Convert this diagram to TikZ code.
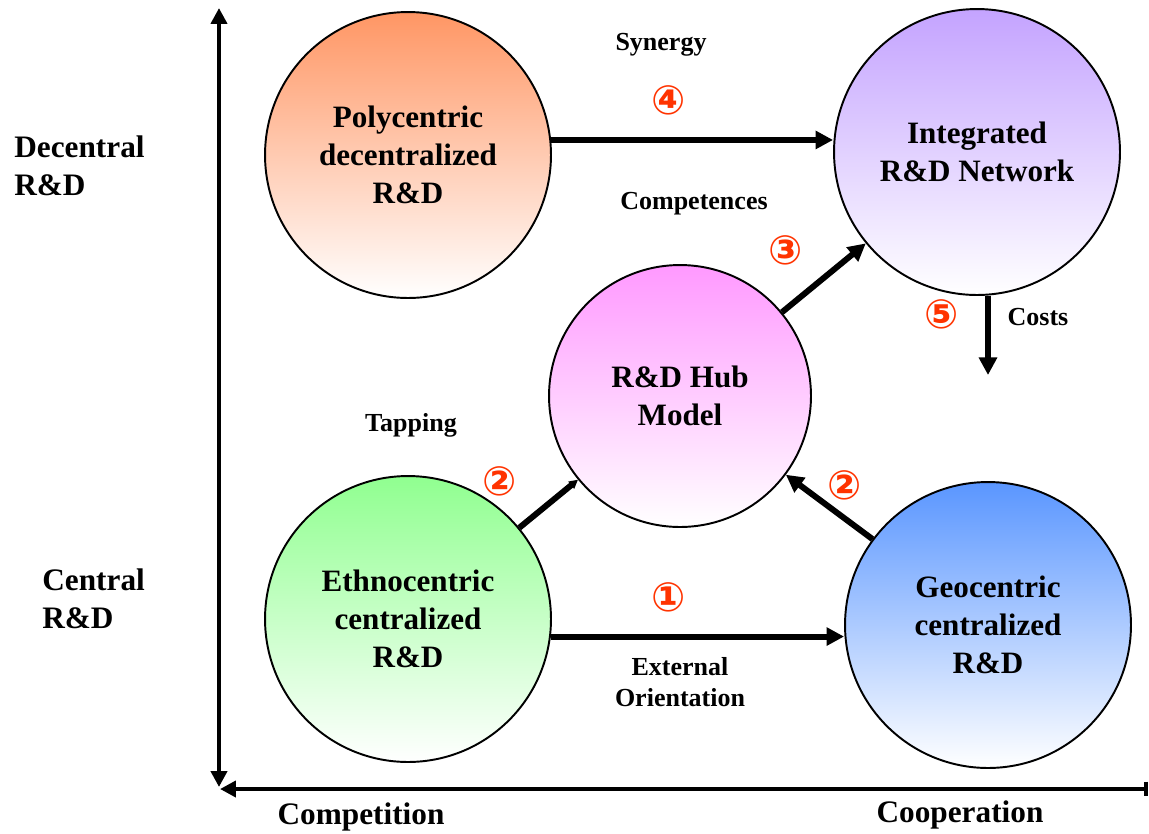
\documentclass[tikz,border=0pt]{standalone}
\usepackage{fontspec}
\setmainfont{Liberation Serif}
\newfontfamily\numfont{DejaVu Sans}
\usetikzlibrary{arrows.meta}
\definecolor{PolyOrange}{RGB}{255,150,100}
\definecolor{NetLilac}{RGB}{196,163,255}
\definecolor{HubPink}{RGB}{255,153,255}
\definecolor{EthnoGreen}{RGB}{144,255,144}
\definecolor{GeoBlue}{RGB}{90,150,255}
\definecolor{NumRed}{RGB}{255,51,0}
\tikzset{
	unit/.style={circle, draw=black, line width=1.1pt, align=center, inner sep=0pt,
		font=\bfseries\fontsize{17.7}{21.5}\selectfont, bottom color=white, minimum size=5.72cm},
	flow/.style={line width=3.4pt, -{Triangle[length=10pt,width=10pt]}},
	ax/.style={line width=2.3pt},
	lab/.style={font=\bfseries\fontsize{14.8}{17.5}\selectfont, align=center},
	axlab/.style={font=\bfseries\fontsize{17.8}{21.5}\selectfont, align=left, inner sep=0pt},
	num/.style={text=NumRed, font=\numfont\bfseries\fontsize{23}{23}\selectfont}
}

\begin{document}
\begin{tikzpicture}[x=0.02cm, y=-0.02cm]
		\useasboundingbox (0,0) rectangle (1149,833);
		% the five R&D models
		\node[unit, top color=PolyOrange] (poly) at (408,155) {Polycentric\\decentralized\\R\&D};
		\node[unit, top color=NetLilac] (integ) at (977,152) {Integrated\\R\&D Network};
		\node[unit, top color=HubPink, minimum size=5.24cm] (hub) at (680,396) {R\&D Hub\\Model};
		\node[unit, top color=EthnoGreen] (ethno) at (408,619) {Ethnocentric\\centralized\\R\&D};
		\node[unit, top color=GeoBlue] (geo) at (988,625) {Geocentric\\centralized\\R\&D};
		% axes
		\coordinate (ytop) at (219,8);
		\coordinate (ybot) at (219,787);
		\coordinate (xleft) at (220,789);
		\coordinate (xright) at (1148,789);
		\draw[ax, {Triangle[length=9pt,width=9pt]}-{Triangle[length=9pt,width=9pt]}] (ytop) -- (ybot);
		\draw[ax, {Triangle[length=9pt,width=9pt]}-{Bar[width=8.5pt]}] (xleft) -- (xright);
		\node[axlab, anchor=west] (dec) at (14,166) {Decentral\\R\&D};
		\node[axlab, anchor=west] (cen) at (42,599) {Central\\R\&D};
		\node[axlab] (compet) at (361,817) {Competition};
		\node[axlab] (coop) at (960,815) {Cooperation};
		% transitions
		\draw[flow] (poly.6) -- (poly.6 -| integ.west);
		\draw[flow] (ethno.-7) -- (ethno.-7 -| geo.west);
		\draw[flow, -{Triangle[length=5pt,width=5pt]}] (ethno) -- (hub);
		\draw[flow] (geo) -- (hub);
		\draw[flow] (hub) -- (integ);
		\coordinate (costend) at (988,375);
		\draw[flow] (costend |- integ.south) -- (costend);
		% labels
		\node[lab] (syn) at (661,45) {Synergy};
		\node[num] (n4) at (669,100) {④};
		\node[lab] (comp) at (694,204) {Competences};
		\node[num] (n3) at (786,250) {③};
		\node[num] (n5) at (942,314) {⑤};
		\node[lab] (costs) at (1038,317) {Costs};
		\node[lab] (tap) at (411,425) {Tapping};
		\node[num] (n2a) at (500,481) {②};
		\node[num] (n2b) at (845,485) {②};
		\node[num] (n1) at (669,597) {①};
		\node[lab] (ext) at (680,682) {External\\Orientation};
\end{tikzpicture}
\end{document}
